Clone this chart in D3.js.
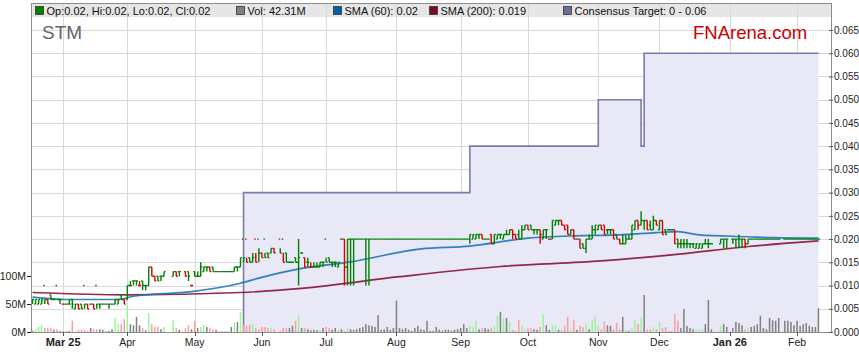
<!DOCTYPE html>
<html>
<head>
<meta charset="utf-8">
<script src="https://cdn.jsdelivr.net/npm/d3@7"></script>
<style>
  body { margin: 0; background: #fff; }
  svg { display: block; font-family: Arial, "Liberation Sans", sans-serif; }
</style>
</head>
<body>
<svg id="chart" width="859" height="363"></svg>
<script>
// ---------------- data ----------------
// one entry per weekday from 17 Feb 2025: [open, high, low, close] in 0.001 AUD, then volume in millions
// null = exchange holiday (no trade)
const feb25 = [[7,7,6,7,2],[6,7,6,7,5],[6,7,6,7,9],[6,7,6,7,12],[10,7,6,7,7],[7,7,6,6,7],[8,8,7,7,7],[7,7,7,7,4],[10,7,7,7,5],[7,7,6,7,2]];
const mar25 = [[6,6,6,6,1],[6,6,6,6,1],[6,7,6,6,2],[7,7,5,6,20],[5,6,5,6,1],[6,6,5,5,4],[6,6,5,5,4],[10,6,5,6,4],[6,6,5,5,2],[6,6,6,6,7],
  [6,6,5,5,5],[10,6,5,6,5],[6,6,5,6,5],[6,6,6,6,4],[6,6,6,6,1],[6,6,5,6,2],[6,6,6,6,5],[6,7,6,7,25],[6,7,6,7,14],[8,8,7,7,14],[7,7,6,6,23]];
const apr25 = [[7,10,7,10,48],[10,11,10,10,14],[11,11,10,11,12],[11,11,10,11,27],[10,11,10,10,12],[11,11,9,10,7],[10,10,9,10,3],[10,14,10,14,34],
  [14,14,12,12,14],[12,12,11,11,9],[12,12,11,11,9],[12,12,11,12,5],[12,13,12,13,9],null,null,[12,13,12,13,21],[13,13,12,12,7],[13,13,12,13,4],null,
  [13,13,12,12,7],[13,13,11,12,12],[10,10,10,10,5]];
const may25 = [[13,13,12,12,20],[12,13,12,12,7],[12,15,12,14,9],[13,14,13,14,12],[14,14,13,14,9],[14,14,13,13,7],[14,14,13,13,5],[13,13,13,13,4],
  [13,13,13,13,1],[13,13,13,13,1],[13,13,13,13,1],[13,13,13,13,1],[13,13,13,13,9],[13,14,13,14,18],[14,14,13,14,18],[14,16,14,16,36],
  [20,16,15,16,12],[20,16,15,15,11],[16,16,15,15,12],[15,17,15,16,14],[20,17,15,15,7],[20,18,15,17,5]];
const jun25 = [[17,17,16,16,9],[20,17,16,16,9],[17,17,16,16,7],[17,18,17,18,7],[18,18,17,17,5],null,[20,18,17,17,2],[20,17,15,15,7],
  [17,17,15,15,7],[15,15,15,15,7],[15,15,15,15,11],[16,16,15,15,20],[15,20,10,16,30],[17,17,17,17,7],[16,16,14,14,7],[15,16,14,15,5],
  [14,15,14,14,3],[14,15,14,14,4],[14,15,14,14,3],[14,15,14,15,4],[15,15,14,15,7]];
const jul25 = [[20,16,15,15,9],[16,16,15,15,7],[15,15,14,15,4],[15,15,14,15,7],[14,15,14,15,4],[20,20,20,20,5],[20,20,10,14,2],[14,20,10,20,7],
  [20,20,10,20,5],[20,20,10,20,4],[20,20,20,20,5],[20,20,20,20,7],[20,20,20,20,9],[20,20,10,20,14],[20,20,10,20,12],[20,20,20,20,11],
  [20,20,20,20,9],[20,20,20,20,30],[20,20,20,20,4],[20,20,20,20,5],[20,20,20,20,9],[20,20,20,20,4],[20,20,20,20,7]];
const aug25 = [[20,20,20,20,56],[20,20,20,20,7],[20,20,20,20,5],[20,20,20,20,7],[20,20,20,20,4],[20,20,20,20,2],[20,20,20,20,7],[20,20,20,20,11],
  [20,20,20,20,5],[20,20,20,20,4],[20,20,20,20,20],[20,20,20,20,2],[20,20,20,20,2],[20,20,20,20,9],[20,20,20,20,4],[20,20,20,20,2],
  [20,20,20,20,4],[20,20,20,20,4],[20,20,20,20,2],[20,20,20,20,4],[20,20,20,20,5]];
const sep25 = [[20,20,20,20,7],[20,20,20,20,14],[20,20,20,20,7],[20,21,19,21,11],[20,21,20,21,9],[20,21,20,21,20],[21,21,20,21,5],[21,21,20,20,7],
  [20,20,20,20,7],[20,20,20,20,5],[21,21,19,19,7],[19,21,19,21,11],[20,21,20,21,30],[21,21,20,21,36],[20,21,20,21,25],[21,22,21,21,25],
  [21,22,21,22,18],[22,22,20,21,4],[21,21,20,20,2],[21,22,20,20,21],[20,23,20,22,11],[22,23,22,23,5]];
const oct25 = [[23,23,22,22,7],[23,23,22,22,7],[22,22,21,22,5],[22,22,21,22,4],[22,22,19,21,9],[20,22,20,22,32],[22,22,20,22,12],[20,20,20,20,4],
  [20,24,20,24,12],[23,24,23,24,12],[24,24,23,24,4],[24,24,23,23,4],[23,23,22,22,11],[23,23,21,21,27],[21,22,21,22,4],[22,22,20,20,21],
  [20,20,20,20,4],[20,20,18,18,11],[19,19,18,18,9],[18,20,17,20,14],[20,21,20,20,5],[20,23,20,22,21],[22,23,21,23,27]];
const nov25 = [[22,23,22,23,11],[23,23,22,22,5],[23,23,21,21,18],[22,22,21,22,12],[22,22,21,22,11],[22,22,20,20,5],[21,21,20,20,16],[20,20,19,19,5],
  [19,21,19,19,27],[19,21,19,20,4],[20,21,20,20,2],[20,23,20,23,7],[22,24,22,24,21],[24,24,22,23,14],[23,26,23,24,27],[24,24,22,24,66],
  [24,24,22,22,5],[23,24,22,22,5],[22,25,22,24,9],[24,24,23,23,5]];
const dec25 = [[22,24,22,24,18],[24,24,21,21,7],[22,22,21,21,9],[22,22,22,22,1],[22,22,22,22,1],[22,22,19,19,32],[20,20,18,19,20],[19,20,18,19,7],
  [19,20,18,19,41],[19,20,18,19,11],[19,19,18,19,7],[19,19,18,19,5],[18,19,18,19,5],[18,19,18,19,4],[18,19,18,19,5],[19,20,19,19,14],
  [19,20,18,19,57],[19,19,19,19,5],null,null,[19,20,19,20,11],[20,20,18,20,14],[20,20,18,20,9]];
const jan26 = [null,[20,20,19,20,7],[20,20,18,20,18],[20,21,18,20,16],[20,20,18,20,12],[20,20,18,19,5],[19,20,19,20,7],[20,20,20,20,9],
  [20,20,20,20,11],[20,20,20,20,14],[20,20,20,20,29],[20,20,20,20,7],[20,20,20,20,5],[20,20,20,20,25],[20,20,20,20,21],[20,20,20,20,20],
  [20,20,20,20,25],null,[20,20,20,20,20],[20,20,20,20,20],[20,20,20,20,18],[20,20,20,20,12]];
const feb26 = [[20,20,20,20,20],[20,20,20,20,11],[20,20,20,20,14],[20,20,20,20,16],[20,20,20,20,11],[20,20,20,20,9],[20,20,20,20,9],[20,20,20,20,42.31]];

// moving averages: [day index, value]
const sma60 = [[0,0.0075],[11,0.0070],[28,0.0070],[33,0.0077],[52,0.0087],[68,0.0105],[74,0.0116],[88,0.0137],[104,0.0151],[127,0.0179],
  [143,0.0185],[162,0.0202],[177,0.0207],[192,0.0209],[204,0.0214],[211,0.0216],[218,0.0209],[234,0.0205],[242,0.0203],[257,0.0202]];
const sma200 = [[0,0.0085],[31,0.0080],[68,0.0085],[88,0.0094],[120,0.0119],[153,0.0141],[186,0.0153],[209,0.0166],[234,0.0184],[257,0.0196]];

// consensus target: day index where a new target starts, and its value
const targetDay = [69, 69, 143, 185, 199, 200];
const targetValue = [0, 0.03, 0.04, 0.05, 0.04, 0.06];

const monthLabels = ["Mar 25","Apr","May","Jun","Jul","Aug","Sep","Oct","Nov","Dec","Jan 26","Feb"];
const legendLabels = ["Op:0.02, Hi:0.02, Lo:0.02, Cl:0.02", "Vol: 42.31M", "SMA (60): 0.02", "SMA (200): 0.019", "Consensus Target: 0 - 0.06"];
const volumeTicks = [0, 50, 100];
const priceTicks = [0, 0.005, 0.01, 0.015, 0.02, 0.025, 0.03, 0.035, 0.04, 0.045, 0.05, 0.055, 0.06, 0.065];

// ---------------- layout ----------------
const legendColors = ["#008000", "#808080", "#0063a6", "#7a0a2a", "#6b6b9e"];
const legendX = [35, 236, 333, 429, 563];
const pL = 31, pR = 831, dataRight = 820, pT = 3, pB = 332;
const font = "Arial, 'Liberation Sans', sans-serif";

const svg = d3.select("#chart");
const days = [].concat(feb25, mar25, apr25, may25, jun25, jul25, aug25, sep25, oct25, nov25, dec25, jan26, feb26);

// weekday calendar for the x axis
const dates = [];
for (let d = new Date(2025, 1, 17); dates.length < days.length; d.setDate(d.getDate() + 1)) {
  if (d.getDay() !== 0 && d.getDay() !== 6) dates.push(new Date(d));
}
const monthStarts = d3.range(1, dates.length).filter(i => dates[i].getMonth() !== dates[i - 1].getMonth());

const x = d3.scaleBand().domain(d3.range(days.length)).range([pL, dataRight]);
const cx = i => x(i) + x.bandwidth() / 2;
const half = x.bandwidth() / 2;
const yP = d3.scaleLinear().domain([0, 0.065]).range([pB, 30]);
const yV = d3.scaleLinear().domain([0, 100]).range([pB, 276]);
const mil = v => v * 0.001;

// legend strip
svg.append("rect").attr("x", pL).attr("y", pT).attr("width", pR - pL).attr("height", 14).attr("fill", "#e6e6e6");

// grid
const grid = svg.append("g").attr("stroke", "#d9d9d9").attr("stroke-width", 1).attr("shape-rendering", "crispEdges");
priceTicks.filter(t => t > 0).forEach(t => {
  grid.append("line").attr("x1", pL).attr("x2", pR).attr("y1", Math.round(yP(t)) + 0.5).attr("y2", Math.round(yP(t)) + 0.5);
});
monthStarts.forEach(i => {
  grid.append("line").attr("x1", Math.round(cx(i)) + 0.5).attr("x2", Math.round(cx(i)) + 0.5).attr("y1", pT).attr("y2", pB);
});

// consensus target
const targetPts = targetDay.map((d, k) => [cx(d), targetValue[k]]);
targetPts.push([cx(days.length - 1), targetValue[targetValue.length - 1]]);
svg.append("path")
  .attr("d", d3.area().x(p => p[0]).y0(pB).y1(p => yP(p[1])).curve(d3.curveStepAfter)(targetPts))
  .attr("fill", "#e8e8f6");
svg.append("path")
  .attr("d", d3.line().x(p => p[0]).y(p => yP(p[1])).curve(d3.curveStepAfter)(targetPts))
  .attr("fill", "none").attr("stroke", "#7a7aac").attr("stroke-width", 1.6);

// volume
const volColor = b => b[3] > b[0] ? "#99f599" : b[3] < b[0] ? "#ff9c9c" : "#808080";
svg.append("g").selectAll("rect")
  .data(days.map((b, i) => ({ b, i })).filter(o => o.b))
  .join("rect")
  .attr("x", o => cx(o.i) - 0.75)
  .attr("width", 1.5)
  .attr("y", o => yV(o.b[4]))
  .attr("height", o => pB - yV(o.b[4]))
  .attr("fill", o => volColor(o.b));

// moving averages
const smaLine = d3.line().x(p => cx(p[0])).y(p => yP(p[1])).curve(d3.curveMonotoneX);
svg.append("path").attr("d", smaLine(sma200)).attr("fill", "none").attr("stroke", "#8a1238").attr("stroke-width", 1.7).attr("stroke-opacity", 0.9);
svg.append("path").attr("d", smaLine(sma60)).attr("fill", "none").attr("stroke", "#1f74b8").attr("stroke-width", 1.7).attr("stroke-opacity", 0.9);

// price bars: open tick left, close tick right, high-low stem
const candles = svg.append("g").attr("stroke-width", 1.4).attr("fill", "none");
let prevClose = null;
days.forEach((b, i) => {
  if (!b) return;
  const col = prevClose === null || b[3] >= prevClose ? "#008000" : "#dd0000";
  prevClose = b[3];
  const c = cx(i);
  const p = d3.path();
  p.moveTo(c - half, yP(mil(b[0]))); p.lineTo(c, yP(mil(b[0])));
  p.moveTo(c, yP(mil(b[1]))); p.lineTo(c, yP(mil(b[2])));
  p.moveTo(c, yP(mil(b[3]))); p.lineTo(c + half, yP(mil(b[3])));
  candles.append("path").attr("d", p.toString()).attr("stroke", col);
});

// frame and axes
const frame = svg.append("g").attr("stroke", "#8c8c8c").attr("shape-rendering", "crispEdges");
frame.append("line").attr("x1", pL).attr("x2", pR).attr("y1", pT + 0.5).attr("y2", pT + 0.5);
frame.append("line").attr("x1", pL + 0.5).attr("x2", pL + 0.5).attr("y1", pT).attr("y2", pB);
frame.append("line").attr("x1", pR + 0.5).attr("x2", pR + 0.5).attr("y1", pT).attr("y2", pB);
frame.append("line").attr("x1", pL).attr("x2", pR).attr("y1", pB + 0.5).attr("y2", pB + 0.5);

const rightAxis = svg.append("g").attr("transform", `translate(${pR},0)`)
  .call(d3.axisRight(yP).tickValues(priceTicks).tickFormat(d3.format(".3f")).tickSize(4).tickPadding(0));
rightAxis.select(".domain").remove();
rightAxis.selectAll("line").attr("stroke", "#555").attr("transform", "translate(-2,0)");
rightAxis.selectAll("text").attr("x", 3).attr("font-size", 10).attr("fill", "#222").attr("font-family", font);

const leftAxis = svg.append("g").attr("transform", `translate(${pL},0)`)
  .call(d3.axisLeft(yV).tickValues(volumeTicks).tickFormat(v => v + "M").tickSize(4).tickPadding(1));
leftAxis.select(".domain").remove();
leftAxis.selectAll("line").attr("stroke", "#222");
leftAxis.selectAll("text").attr("font-size", 10.5).attr("fill", "#222").attr("font-family", font);

const xAxis = svg.append("g");
monthStarts.forEach((i, k) => {
  const label = monthLabels[k];
  const withYear = label.includes(" ");
  xAxis.append("line").attr("x1", Math.round(cx(i)) + 0.5).attr("x2", Math.round(cx(i)) + 0.5)
    .attr("y1", pB).attr("y2", pB + 4).attr("stroke", "#555");
  xAxis.append("text").attr("x", cx(i)).attr("y", 346).attr("text-anchor", "middle")
    .attr("font-size", withYear ? 11 : 10.5)
    .attr("font-weight", withYear ? "bold" : "normal")
    .attr("fill", "#222").text(label);
});

// legend
legendLabels.forEach((t, k) => {
  svg.append("rect").attr("x", legendX[k] + 0.5).attr("y", 6.5).attr("width", 8).attr("height", 8)
    .attr("fill", legendColors[k]).attr("stroke", "#333").attr("stroke-width", 0.8);
  svg.append("text").attr("x", legendX[k] + 11.5).attr("y", 14.5).attr("font-size", 11).attr("fill", "#111").text(t);
});

// titles
svg.append("text").attr("x", 42).attr("y", 39).attr("font-size", 19).attr("fill", "#666").text("STM");
svg.append("text").attr("x", 693).attr("y", 39).attr("font-size", 18.5).attr("fill", "#cc0000").text("FNArena.com");
</script>
</body>
</html>
